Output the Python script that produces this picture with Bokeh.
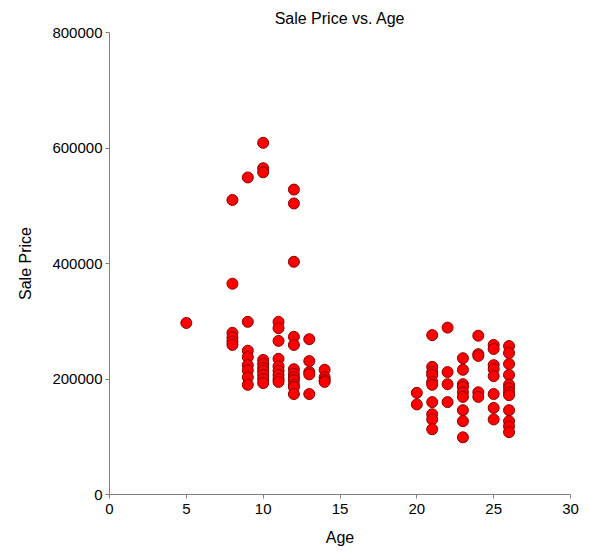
from bokeh.plotting import figure
from bokeh.models import Range1d, FixedTicker, Title
from bokeh.embed import file_html
from bokeh.resources import INLINE

age = (
    [5]
    + [8] * 6
    + [9] * 8
    + [10] * 10
    + [11] * 9
    + [12] * 12
    + [13] * 5
    + [14] * 4
    + [20] * 2
    + [21] * 10
    + [22] * 4
    + [23] * 9
    + [24] * 5
    + [25] * 8
    + [26] * 12
)
price = (
    [297000]
    + [510000, 365000, 280000, 272000, 265000, 259000]
    + [549000, 299000, 249000, 238000, 224000, 215000, 203000, 190000]
    + [609000, 565000, 558000, 233000, 226000, 219000, 214000, 207000, 200000, 193000]
    + [299000, 288000, 266000, 235000, 222000, 214000, 207000, 200000, 195000]
    + [528000, 504000, 403000, 273000, 259000, 217000, 209000, 203000, 198000, 190000, 186000, 174000]
    + [269000, 231000, 212000, 208000, 174000]
    + [216000, 203000, 198000, 195000]
    + [176000, 156000]
    + [276000, 221000, 212000, 207000, 195000, 190000, 160000, 139000, 130000, 113000]
    + [289000, 212000, 191000, 160000]
    + [236000, 216000, 191000, 186000, 177000, 169000, 146000, 127000, 99000]
    + [275000, 243000, 240000, 177000, 169000]
    + [259000, 252000, 224000, 217000, 205000, 174000, 150000, 130000]
    + [257000, 245000, 226000, 207000, 190000, 184000, 177000, 172000, 146000, 127000, 118000, 108000]
)
x_ticks = [0, 5, 10, 15, 20, 25, 30]
y_ticks = [0, 200000, 400000, 600000, 800000]

FONT = "Liberation Sans"

p = figure(
    frame_width=461, frame_height=462,
    x_range=Range1d(0, 30), y_range=Range1d(0, 800000),
    output_backend="svg", toolbar_location=None,
    min_border_left=109, min_border_right=12, min_border_top=32, min_border_bottom=56,
    background_fill_color="white", border_fill_color="white",
)
p.outline_line_color = None
p.grid.visible = False

t = Title(text="Sale Price vs. Age", align="center", text_font=FONT,
          text_font_size="16px", text_font_style="normal", text_color="black",
          offset=0, standoff=12)
p.add_layout(t, "above")

for ax in (p.xaxis[0], p.yaxis[0]):
    ax.axis_line_color = "#808080"
    ax.major_tick_line_color = "#808080"
    ax.minor_tick_line_color = None
    ax.major_tick_out = 4
    ax.major_tick_in = 0
    ax.major_label_text_font = FONT
    ax.major_label_text_font_size = "15px"
    ax.major_label_text_color = "black"
    ax.axis_label_text_font = FONT
    ax.axis_label_text_font_size = "16px"
    ax.axis_label_text_font_style = "normal"
    ax.axis_label_text_color = "black"

p.xaxis.ticker = FixedTicker(ticks=x_ticks)
p.yaxis.ticker = FixedTicker(ticks=y_ticks)
p.yaxis.formatter.use_scientific = False
p.xaxis.axis_label = "Age"
p.yaxis.axis_label = "Sale Price"
p.xaxis.major_label_standoff = 5
p.yaxis.major_label_standoff = 3
p.xaxis.axis_label_standoff = 12
p.yaxis.axis_label_standoff = 15

p.scatter(age, price, size=11, fill_color="red", line_color="#8b0000", line_width=1)

open("out.html", "w").write(file_html(p, INLINE))
